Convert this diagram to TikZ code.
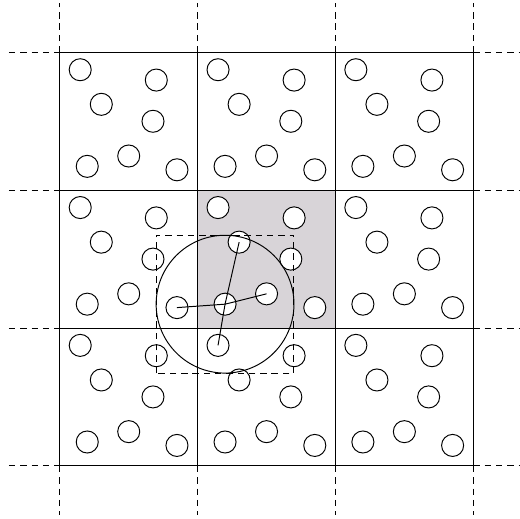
\documentclass[tikz,border=0pt]{standalone}
\usepackage{tikz}
\usetikzlibrary{positioning,arrows.meta}
\usepackage{xcolor}
\definecolor{cellgray}{RGB}{216,212,216}

\tikzset{
  particle/.style={draw,circle,fill=white,inner sep=0pt,minimum size=0.48cm,line width=0.6pt},
  ghost/.style={dashed,line width=0.6pt,dash pattern=on 4pt off 3pt}
}

\begin{document}
\begin{tikzpicture}[x=3cm,y=3cm,line width=0.6pt]
\useasboundingbox (-0.435,-0.378) rectangle (3.338,3.381);
% central box
\fill[cellgray] (1,1) rectangle (2,2);
% periodic images of the particles
\foreach \i in {0,1,2}{
  \foreach \j in {0,1,2}{
    \foreach \k/\px/\py in {1/0.147/0.875,2/0.699/0.800,3/0.300/0.624,4/0.675/0.501,5/0.198/0.174,6/0.499/0.249,7/0.849/0.149}{
      \node[particle] (p\i\j\k) at (\i+\px,\j+\py) {};
    }
  }
}
% cell walls
\foreach \t in {0,1,2,3}{
  \draw (\t,0) -- (\t,3);
  \draw (0,\t) -- (3,\t);
  \draw[ghost] (\t,3) -- (\t,3.36);
  \draw[ghost] (\t,0) -- (\t,-0.355);
  \draw[ghost] (-0.37,\t) -- (0,\t);
  \draw[ghost] (3,\t) -- (3.34,\t);
}
% cutoff sphere and minimum image box
\draw[ghost] ([shift={(-0.5,-0.5)}]p115.center) rectangle ([shift={(0.5,0.5)}]p115.center);
\draw (p115.center) circle[radius=0.5];
% neighbours inside the cutoff
\draw (p115.center) -- (p017.center);
\draw (p115.center) -- (p116.center);
\draw (p115.center) -- (p113.center);
\draw (p115.center) -- (p101.center);
\end{tikzpicture}
\end{document}
